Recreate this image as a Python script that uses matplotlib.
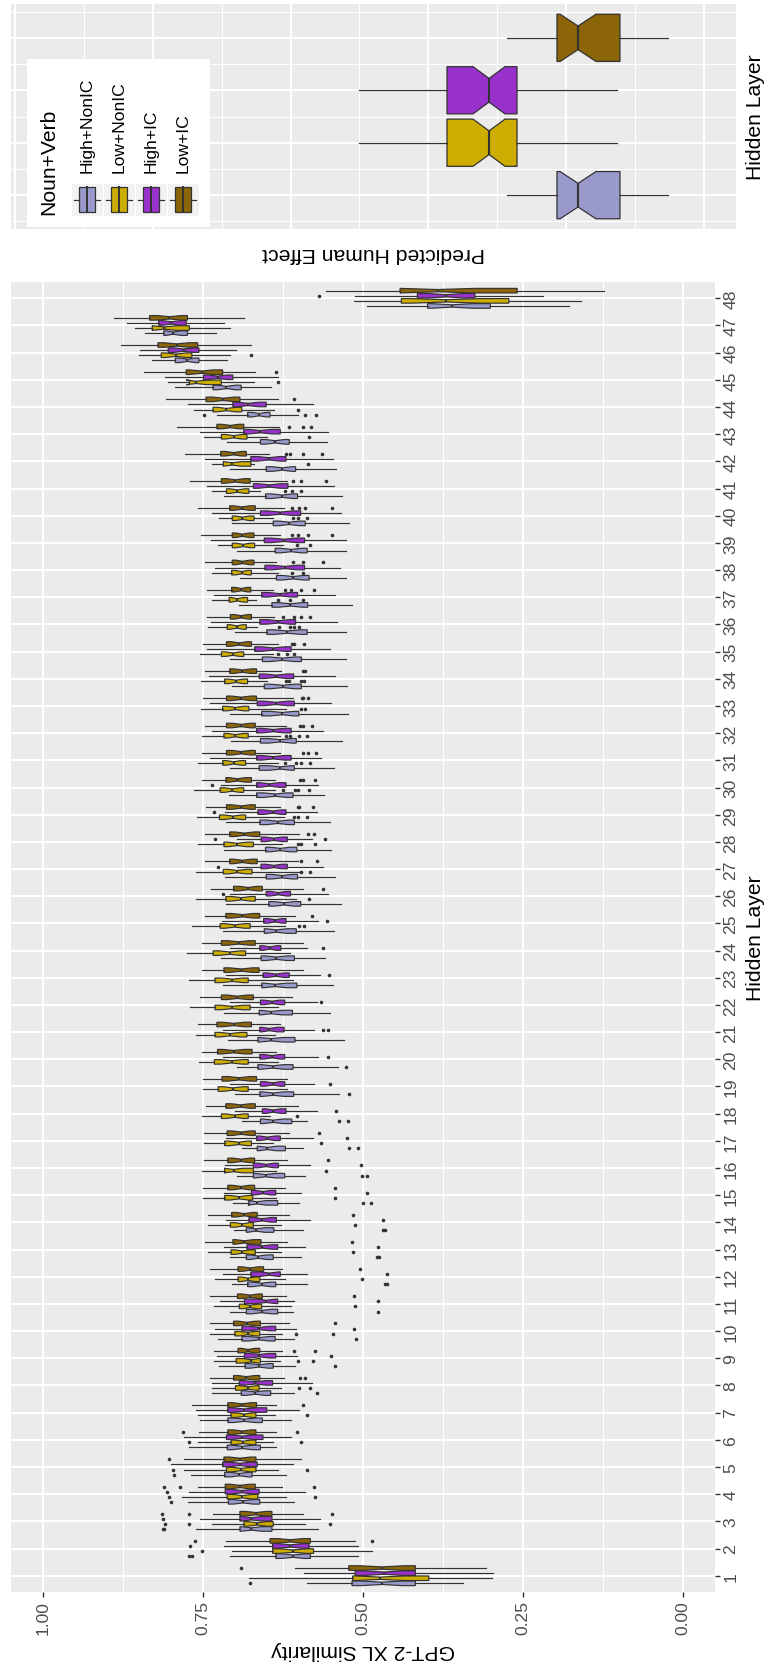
import numpy as np
import matplotlib
matplotlib.use("Agg")
import matplotlib.pyplot as plt
from matplotlib.patches import Rectangle
from matplotlib.lines import Line2D

plt.rcParams['font.family'] = ['Liberation Sans', 'DejaVu Sans']

W, H = 769, 1674

groups = ['High+NonIC', 'Low+NonIC', 'High+IC', 'Low+IC']
colors = ['#9999CC', '#CDAD00', '#9932CC', '#8B6508']
layers = list(range(1, 49))
value_ticks = [0.0, 0.25, 0.5, 0.75, 1.0]
N_ITEMS = 24

# (lower whisker, q1, median, q3, upper whisker) per hidden layer 1..48
high_nonic = [
    (0.344, 0.418, 0.470, 0.517, 0.588), (0.508, 0.582, 0.609, 0.636, 0.708),
    (0.570, 0.642, 0.674, 0.692, 0.761), (0.608, 0.661, 0.687, 0.710, 0.773),
    (0.620, 0.673, 0.693, 0.716, 0.769), (0.636, 0.660, 0.688, 0.712, 0.772),
    (0.612, 0.657, 0.685, 0.711, 0.754), (0.607, 0.644, 0.668, 0.690, 0.736),
    (0.606, 0.640, 0.662, 0.684, 0.724), (0.608, 0.637, 0.662, 0.689, 0.726),
    (0.609, 0.633, 0.658, 0.682, 0.708), (0.587, 0.636, 0.658, 0.680, 0.704),
    (0.597, 0.640, 0.663, 0.682, 0.707), (0.594, 0.639, 0.667, 0.682, 0.702),
    (0.599, 0.633, 0.665, 0.678, 0.703), (0.591, 0.622, 0.652, 0.671, 0.696),
    (0.594, 0.621, 0.649, 0.665, 0.689), (0.587, 0.611, 0.640, 0.660, 0.688),
    (0.537, 0.608, 0.640, 0.661, 0.699), (0.539, 0.609, 0.641, 0.664, 0.697),
    (0.530, 0.606, 0.643, 0.664, 0.710), (0.551, 0.610, 0.643, 0.662, 0.717),
    (0.546, 0.603, 0.637, 0.658, 0.719), (0.559, 0.607, 0.635, 0.659, 0.721),
    (0.545, 0.604, 0.635, 0.654, 0.719), (0.534, 0.597, 0.623, 0.647, 0.713),
    (0.544, 0.602, 0.626, 0.651, 0.716), (0.550, 0.603, 0.629, 0.652, 0.717),
    (0.551, 0.607, 0.633, 0.661, 0.713), (0.560, 0.609, 0.637, 0.666, 0.709),
    (0.545, 0.607, 0.629, 0.662, 0.707), (0.533, 0.604, 0.629, 0.660, 0.706),
    (0.523, 0.600, 0.626, 0.658, 0.708), (0.524, 0.596, 0.625, 0.654, 0.704),
    (0.527, 0.596, 0.626, 0.657, 0.707), (0.527, 0.587, 0.618, 0.650, 0.700),
    (0.517, 0.586, 0.613, 0.642, 0.693), (0.526, 0.584, 0.609, 0.635, 0.692),
    (0.526, 0.587, 0.612, 0.637, 0.697), (0.522, 0.590, 0.615, 0.640, 0.704),
    (0.532, 0.602, 0.626, 0.652, 0.717), (0.542, 0.605, 0.626, 0.651, 0.707),
    (0.556, 0.615, 0.637, 0.660, 0.712), (0.602, 0.645, 0.662, 0.680, 0.728),
    (0.643, 0.690, 0.713, 0.734, 0.794), (0.712, 0.756, 0.774, 0.793, 0.829),
    (0.729, 0.774, 0.796, 0.811, 0.840), (0.178, 0.301, 0.361, 0.399, 0.494),
]
low_nonic = [
    (0.299, 0.397, 0.473, 0.516, 0.678), (0.486, 0.577, 0.609, 0.641, 0.704),
    (0.590, 0.640, 0.665, 0.686, 0.736), (0.620, 0.664, 0.688, 0.712, 0.783),
    (0.633, 0.667, 0.690, 0.713, 0.779), (0.641, 0.667, 0.687, 0.706, 0.758),
    (0.637, 0.667, 0.685, 0.706, 0.757), (0.628, 0.662, 0.679, 0.699, 0.736),
    (0.630, 0.660, 0.675, 0.698, 0.732), (0.627, 0.661, 0.680, 0.700, 0.738),
    (0.612, 0.658, 0.676, 0.693, 0.732), (0.622, 0.661, 0.679, 0.695, 0.731),
    (0.628, 0.668, 0.688, 0.706, 0.742), (0.628, 0.671, 0.688, 0.707, 0.742),
    (0.636, 0.672, 0.693, 0.716, 0.749), (0.635, 0.671, 0.702, 0.716, 0.752),
    (0.640, 0.674, 0.694, 0.716, 0.748), (0.645, 0.679, 0.700, 0.721, 0.752),
    (0.618, 0.679, 0.703, 0.726, 0.750), (0.633, 0.679, 0.705, 0.732, 0.756),
    (0.637, 0.681, 0.707, 0.731, 0.760), (0.633, 0.676, 0.704, 0.731, 0.770),
    (0.609, 0.679, 0.704, 0.731, 0.772), (0.613, 0.683, 0.708, 0.734, 0.774),
    (0.621, 0.676, 0.700, 0.723, 0.767), (0.604, 0.668, 0.690, 0.714, 0.760),
    (0.600, 0.673, 0.696, 0.718, 0.761), (0.626, 0.671, 0.696, 0.717, 0.758),
    (0.623, 0.683, 0.703, 0.724, 0.759), (0.637, 0.686, 0.704, 0.723, 0.763),
    (0.632, 0.683, 0.702, 0.719, 0.757), (0.629, 0.679, 0.699, 0.717, 0.752),
    (0.620, 0.678, 0.699, 0.719, 0.753), (0.649, 0.680, 0.698, 0.716, 0.753),
    (0.640, 0.686, 0.703, 0.721, 0.754), (0.666, 0.682, 0.697, 0.712, 0.742),
    (0.667, 0.680, 0.696, 0.709, 0.736), (0.633, 0.674, 0.689, 0.705, 0.735),
    (0.625, 0.669, 0.687, 0.704, 0.727), (0.641, 0.670, 0.688, 0.704, 0.724),
    (0.661, 0.678, 0.696, 0.713, 0.735), (0.670, 0.675, 0.704, 0.718, 0.736),
    (0.649, 0.681, 0.702, 0.721, 0.748), (0.639, 0.689, 0.713, 0.734, 0.763),
    (0.670, 0.721, 0.760, 0.771, 0.805), (0.707, 0.767, 0.792, 0.815, 0.850),
    (0.707, 0.771, 0.810, 0.829, 0.856), (0.159, 0.272, 0.370, 0.440, 0.514),
]
high_ic = [
    (0.296, 0.418, 0.467, 0.512, 0.592), (0.507, 0.584, 0.613, 0.641, 0.717),
    (0.567, 0.642, 0.674, 0.692, 0.755), (0.591, 0.662, 0.689, 0.715, 0.771),
    (0.609, 0.665, 0.692, 0.719, 0.800), (0.612, 0.656, 0.688, 0.713, 0.779),
    (0.600, 0.650, 0.685, 0.711, 0.760), (0.579, 0.641, 0.668, 0.693, 0.735),
    (0.603, 0.636, 0.662, 0.685, 0.728), (0.605, 0.636, 0.662, 0.689, 0.731),
    (0.607, 0.633, 0.651, 0.685, 0.723), (0.587, 0.629, 0.646, 0.675, 0.719),
    (0.591, 0.633, 0.657, 0.681, 0.717), (0.583, 0.635, 0.657, 0.678, 0.714),
    (0.596, 0.636, 0.656, 0.674, 0.717), (0.582, 0.632, 0.651, 0.671, 0.715),
    (0.578, 0.629, 0.649, 0.666, 0.713), (0.572, 0.620, 0.640, 0.657, 0.700),
    (0.576, 0.622, 0.641, 0.660, 0.708), (0.570, 0.622, 0.642, 0.661, 0.718),
    (0.576, 0.623, 0.646, 0.661, 0.718), (0.572, 0.622, 0.642, 0.660, 0.708),
    (0.567, 0.615, 0.636, 0.656, 0.713), (0.587, 0.628, 0.645, 0.661, 0.708),
    (0.570, 0.620, 0.637, 0.655, 0.720), (0.555, 0.613, 0.632, 0.651, 0.707),
    (0.562, 0.618, 0.639, 0.659, 0.696), (0.580, 0.618, 0.639, 0.659, 0.696),
    (0.572, 0.620, 0.641, 0.664, 0.716), (0.570, 0.620, 0.646, 0.666, 0.721),
    (0.566, 0.612, 0.640, 0.666, 0.739), (0.562, 0.612, 0.640, 0.666, 0.736),
    (0.549, 0.607, 0.636, 0.665, 0.739), (0.544, 0.608, 0.636, 0.662, 0.741),
    (0.551, 0.612, 0.640, 0.669, 0.744), (0.541, 0.605, 0.632, 0.661, 0.737),
    (0.544, 0.602, 0.630, 0.658, 0.733), (0.535, 0.591, 0.622, 0.653, 0.731),
    (0.527, 0.591, 0.623, 0.654, 0.737), (0.534, 0.597, 0.629, 0.660, 0.736),
    (0.545, 0.617, 0.646, 0.671, 0.744), (0.546, 0.620, 0.647, 0.675, 0.747),
    (0.555, 0.629, 0.660, 0.686, 0.755), (0.578, 0.651, 0.679, 0.703, 0.773),
    (0.633, 0.703, 0.727, 0.749, 0.809), (0.698, 0.756, 0.780, 0.804, 0.848),
    (0.717, 0.776, 0.799, 0.819, 0.869), (0.219, 0.325, 0.370, 0.415, 0.512),
]
low_ic = [
    (0.307, 0.418, 0.470, 0.522, 0.606), (0.513, 0.582, 0.613, 0.645, 0.713),
    (0.594, 0.642, 0.667, 0.692, 0.734), (0.626, 0.668, 0.692, 0.715, 0.757),
    (0.597, 0.667, 0.692, 0.717, 0.779), (0.636, 0.667, 0.688, 0.711, 0.756),
    (0.636, 0.666, 0.689, 0.711, 0.767), (0.623, 0.661, 0.682, 0.702, 0.738),
    (0.627, 0.661, 0.679, 0.695, 0.733), (0.615, 0.660, 0.681, 0.702, 0.739),
    (0.620, 0.657, 0.676, 0.696, 0.738), (0.626, 0.655, 0.676, 0.695, 0.738),
    (0.618, 0.659, 0.685, 0.703, 0.746), (0.615, 0.665, 0.685, 0.705, 0.742),
    (0.621, 0.669, 0.690, 0.711, 0.749), (0.619, 0.669, 0.690, 0.711, 0.748),
    (0.616, 0.668, 0.690, 0.712, 0.748), (0.602, 0.668, 0.691, 0.714, 0.745),
    (0.618, 0.666, 0.693, 0.720, 0.749), (0.635, 0.673, 0.702, 0.727, 0.752),
    (0.630, 0.674, 0.702, 0.728, 0.758), (0.611, 0.671, 0.696, 0.721, 0.755),
    (0.594, 0.662, 0.690, 0.717, 0.751), (0.593, 0.668, 0.694, 0.721, 0.752),
    (0.606, 0.661, 0.688, 0.714, 0.747), (0.593, 0.657, 0.679, 0.702, 0.737),
    (0.602, 0.665, 0.688, 0.708, 0.747), (0.600, 0.661, 0.685, 0.708, 0.746),
    (0.630, 0.668, 0.690, 0.713, 0.745), (0.637, 0.674, 0.696, 0.714, 0.752),
    (0.630, 0.668, 0.690, 0.713, 0.752), (0.620, 0.668, 0.690, 0.713, 0.747),
    (0.609, 0.666, 0.690, 0.713, 0.750), (0.628, 0.666, 0.688, 0.708, 0.746),
    (0.633, 0.674, 0.693, 0.713, 0.750), (0.639, 0.674, 0.690, 0.707, 0.743),
    (0.640, 0.675, 0.690, 0.705, 0.743), (0.635, 0.670, 0.688, 0.704, 0.747),
    (0.629, 0.670, 0.688, 0.704, 0.753), (0.623, 0.668, 0.689, 0.708, 0.758),
    (0.618, 0.676, 0.699, 0.721, 0.770), (0.647, 0.682, 0.702, 0.722, 0.777),
    (0.631, 0.686, 0.707, 0.728, 0.791), (0.633, 0.692, 0.718, 0.745, 0.808),
    (0.668, 0.719, 0.752, 0.776, 0.842), (0.675, 0.758, 0.791, 0.820, 0.877),
    (0.686, 0.774, 0.802, 0.833, 0.889), (0.124, 0.259, 0.383, 0.442, 0.558),
]

# outlying items by layer
high_nonic_out = {
    1: [0.676], 2: [0.771, 0.767], 3: [0.812, 0.810], 4: [0.800], 5: [0.795],
    8: [0.571], 9: [0.544], 10: [0.511], 11: [0.476], 12: [0.465, 0.462],
    13: [0.478, 0.474], 14: [0.469, 0.466], 15: [0.500, 0.488],
    16: [0.502, 0.494], 17: [0.521, 0.508], 18: [0.538, 0.523], 19: [0.521],
    20: [0.526], 44: [0.748, 0.590, 0.573],
}
low_nonic_out = {
    2: [0.752], 3: [0.809, 0.772, 0.551], 4: [0.803, 0.574], 5: [0.796, 0.587],
    6: [0.772, 0.597], 7: [0.588], 8: [0.600, 0.583], 9: [0.601, 0.578],
    10: [0.605, 0.547], 11: [0.512], 12: [0.502], 13: [0.516], 14: [0.512],
    15: [0.544], 16: [0.558], 17: [0.566], 18: [0.603], 25: [0.600, 0.592],
    26: [0.584], 27: [0.597, 0.583], 28: [0.602, 0.597, 0.575],
    29: [0.607, 0.602, 0.587], 30: [0.625, 0.606, 0.602, 0.584],
    31: [0.622, 0.604, 0.597, 0.582], 32: [0.620, 0.613, 0.599, 0.588],
    33: [0.597, 0.591], 34: [0.620, 0.615, 0.596, 0.592],
    35: [0.633, 0.618, 0.607], 36: [0.631, 0.613, 0.607, 0.599],
    37: [0.633, 0.613, 0.593], 38: [0.611, 0.593], 39: [0.603, 0.582],
    40: [0.609, 0.601, 0.587], 41: [0.621, 0.611, 0.597], 42: [0.586],
    43: [0.584], 44: [0.601], 45: [0.632], 46: [0.675],
}
high_ic_out = {
    2: [0.770], 3: [0.812], 4: [0.806], 9: [0.549], 10: [0.514], 11: [0.477],
    12: [0.462], 13: [0.477], 14: [0.469], 15: [0.494], 16: [0.503],
    17: [0.524], 18: [0.542], 19: [0.551], 20: [0.554], 21: [0.563, 0.554],
    22: [0.565], 23: [0.553], 24: [0.563], 25: [0.556], 26: [0.719],
    27: [0.727], 28: [0.731, 0.559], 29: [0.733], 30: [0.736], 48: [0.568],
}
low_ic_out = {
    1: [0.690], 2: [0.762, 0.486], 3: [0.813, 0.771, 0.548],
    4: [0.811, 0.786, 0.576], 5: [0.802], 6: [0.781, 0.603], 7: [0.594],
    8: [0.598, 0.591], 9: [0.607, 0.574], 10: [0.543], 11: [0.514],
    12: [0.504], 13: [0.517], 14: [0.516], 15: [0.544], 16: [0.555],
    17: [0.569], 25: [0.580], 26: [0.563], 27: [0.597, 0.572],
    28: [0.586, 0.577], 29: [0.602, 0.600, 0.578], 30: [0.598, 0.594, 0.574],
    31: [0.594, 0.585, 0.573], 32: [0.598, 0.593, 0.580],
    33: [0.595, 0.593, 0.586], 34: [0.593, 0.590], 35: [0.611, 0.607, 0.592],
    36: [0.625, 0.607, 0.597, 0.583], 37: [0.622, 0.612, 0.596, 0.577],
    38: [0.609, 0.594, 0.562], 39: [0.611, 0.602, 0.585, 0.548],
    40: [0.611, 0.600, 0.590, 0.548], 41: [0.609, 0.597, 0.558],
    42: [0.620, 0.613, 0.593, 0.564], 43: [0.616, 0.594, 0.581], 44: [0.608],
    45: [0.635],
}

# predicted human effect: (lower whisker, q1, median, q3, upper whisker, notch lo, notch hi)
effect = [
    (0.026, 0.061, 0.0914, 0.1067, 0.143, 0.0784, 0.1044),
    (0.063, 0.1357, 0.156, 0.1865, 0.250, 0.1444, 0.1676),
    (0.063, 0.1357, 0.156, 0.1865, 0.250, 0.1444, 0.1676),
    (0.026, 0.061, 0.0914, 0.1067, 0.143, 0.0784, 0.1044),
]

INK = '#333333'
PANEL = '#EBEBEB'
TXT = '#4D4D4D'
TITLE_SIZE = 15.2
TICK_SIZE = 12.6


def fig_rect(left, top, right, bottom):
    return [left / W, 1 - bottom / H, (right - left) / W, (bottom - top) / H]


def layer_stats(rows, outliers):
    stats = []
    for layer, (lo, q1, med, q3, hi) in zip(layers, rows):
        half = 1.58 * (q3 - q1) / np.sqrt(N_ITEMS)
        stats.append(dict(whislo=lo, q1=q1, med=med, q3=q3, whishi=hi,
                          cilo=med - half, cihi=med + half,
                          fliers=outliers.get(layer, [])))
    return stats


def draw_boxes(ax, stats, positions, width, color, lw):
    ax.bxp(stats, positions=positions, widths=width, orientation='horizontal',
           patch_artist=True, shownotches=True, showcaps=False,
           boxprops=dict(facecolor=color, edgecolor=INK, linewidth=lw),
           medianprops=dict(color=INK, linewidth=lw * 1.7),
           whiskerprops=dict(color=INK, linewidth=lw),
           flierprops=dict(marker='o', markersize=2.6, markerfacecolor=INK,
                           markeredgewidth=0))


def style_panel(ax):
    ax.set_facecolor(PANEL)
    for s in ax.spines.values():
        s.set_visible(False)
    ax.set_axisbelow(True)


fig = plt.figure(figsize=(W / 100, H / 100), dpi=100)

# main panel: similarity per hidden layer
ax = fig.add_axes(fig_rect(10.7, 283, 715, 1593))
style_panel(ax)
all_rows = [high_nonic, low_nonic, high_ic, low_ic]
all_out = [high_nonic_out, low_nonic_out, high_ic_out, low_ic_out]
slot = 0.75 / 4
for i, (rows, out, color) in enumerate(zip(all_rows, all_out, colors)):
    pos = [l + (i - 1.5) * slot for l in layers]
    draw_boxes(ax, layer_stats(rows, out), pos, slot * 0.9, color, 0.85)

ax.set_xlim(1.05, -0.05)
ax.set_ylim(0.4, 48.6)
ax.set_xticks(value_ticks)
ax.set_xticklabels(['%.2f' % v for v in value_ticks])
ax.set_xticks([0.125, 0.375, 0.625, 0.875], minor=True)
ax.set_yticks(layers)
ax.set_yticklabels([str(l) for l in layers])
ax.yaxis.tick_right()
ax.grid(which='major', color='white', linewidth=1.5)
ax.grid(which='minor', axis='x', color='white', linewidth=0.75)
ax.tick_params(which='major', length=3.6, width=1.0, color=INK,
               labelcolor=TXT, labelsize=TICK_SIZE, pad=2.5)
ax.tick_params(which='minor', length=0)
ax.tick_params(axis='x', labelrotation=90)
ax.tick_params(axis='y', labelrotation=90)
for lbl in ax.get_yticklabels():
    lbl.set_verticalalignment('center')
ax.set_xlabel('GPT-2 XL Similarity', fontsize=TITLE_SIZE, rotation=180, labelpad=4)
ax.yaxis.set_label_position('right')
ax.set_ylabel('Hidden Layer', fontsize=TITLE_SIZE, rotation=90, va='center',
              labelpad=12)

# small panel: predicted human effect
ax2 = fig.add_axes(fig_rect(10.8, 5, 736, 230))
style_panel(ax2)
for i, (row, color) in enumerate(zip(effect, colors)):
    lo, q1, med, q3, hi, clo, chi = row
    st = [dict(whislo=lo, q1=q1, med=med, q3=q3, whishi=hi,
               cilo=clo, cihi=chi, fliers=[])]
    draw_boxes(ax2, st, [i + 1], 0.9, color, 0.9)
ax2.set_xlim(0.503, -0.0232)
ax2.set_ylim(0.355, 4.645)
ax2.set_xticks(np.arange(0, 0.51, 0.1))
ax2.set_xticks(np.arange(0.05, 0.51, 0.1), minor=True)
ax2.set_yticks([1, 2, 3, 4])
ax2.set_yticks([0.5, 1.5, 2.5, 3.5, 4.5], minor=True)
ax2.grid(which='major', color='white', linewidth=1.5)
ax2.grid(which='minor', color='white', linewidth=0.75)
ax2.tick_params(which='both', length=0, labelbottom=False, labelleft=False)
ax2.set_xlabel('Predicted Human Effect', fontsize=TITLE_SIZE, rotation=180,
               labelpad=10)
ax2.yaxis.set_label_position('right')
ax2.set_ylabel('Hidden Layer', fontsize=TITLE_SIZE, rotation=90, va='center',
               labelpad=14)


# legend, drawn in figure pixels
def fx(px):
    return px / W


def fy(py):
    return 1 - py / H


fig.patches.append(Rectangle((fx(27), fy(228)), 183 / W, 168 / H,
                             transform=fig.transFigure, facecolor='white',
                             edgecolor='none', zorder=5))
fig.text(fx(49), fy(215), 'Noun+Verb', rotation=90, ha='center', va='bottom',
         fontsize=TITLE_SIZE, zorder=6)
key_w, key_top, key_bot = 32, 184, 217
for i, (name, color) in enumerate(zip(groups, colors)):
    x0 = 71 + key_w * i
    cx = x0 + key_w / 2
    cy = (key_top + key_bot) / 2
    fig.patches.append(Rectangle((fx(x0), fy(key_bot)), key_w / W,
                                 (key_bot - key_top) / H,
                                 transform=fig.transFigure, facecolor='#F2F2F2',
                                 edgecolor='white', linewidth=0.8, zorder=6))
    fig.lines.append(Line2D([fx(x0 + 3), fx(x0 + key_w - 3)], [fy(cy), fy(cy)],
                            transform=fig.transFigure, color=INK,
                            linewidth=0.9, zorder=7))
    fig.patches.append(Rectangle((fx(cx - 8), fy(key_bot - 4)), 16 / W,
                                 (key_bot - key_top - 8) / H,
                                 transform=fig.transFigure, facecolor=color,
                                 edgecolor=INK, linewidth=0.9, zorder=8))
    fig.lines.append(Line2D([fx(cx), fx(cx)], [fy(key_bot - 4), fy(key_top + 4)],
                            transform=fig.transFigure, color=INK,
                            linewidth=1.4, zorder=9))
    fig.text(fx(cx), fy(173), name, rotation=90, ha='center', va='bottom',
             fontsize=TICK_SIZE, color='black', zorder=6)

fig.savefig('out.png', dpi=100, facecolor='white')
